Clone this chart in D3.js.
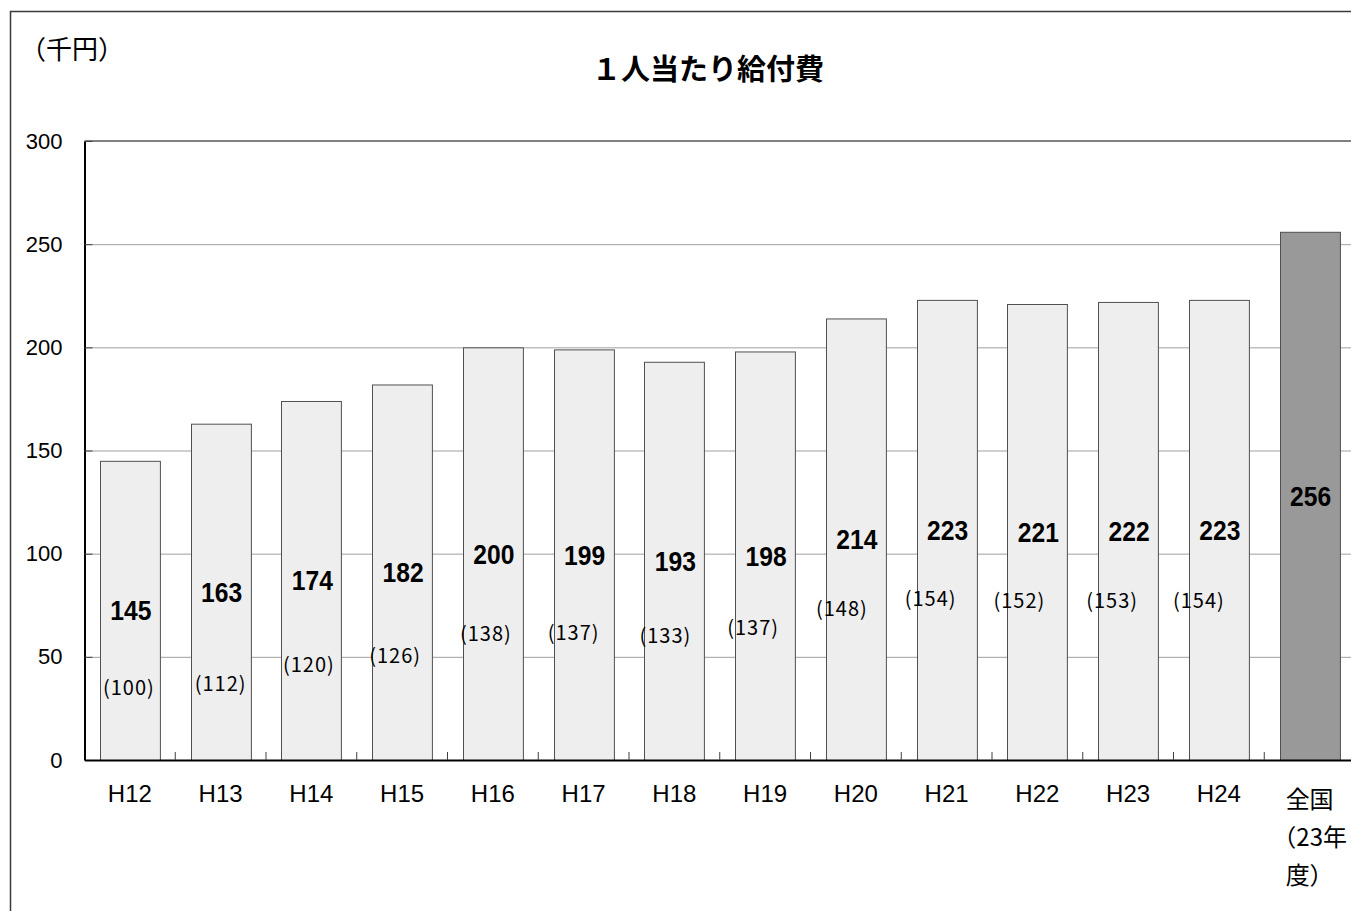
<!DOCTYPE html>
<html lang="ja">
<head>
<meta charset="utf-8">
<title>1人当たり給付費</title>
<script src="https://cdn.jsdelivr.net/npm/d3@7"></script>
<style>
  html, body { margin: 0; padding: 0; background: #fff; overflow: hidden; }
  svg { display: block; }
  .ylab text { font-family: "Liberation Sans", Arial, sans-serif; font-size: 22px; fill: #000; }
  .xlab text { font-family: "Liberation Sans", Arial, "Noto Sans CJK JP", sans-serif; font-size: 24px; fill: #000; }
</style>
</head>
<body>
<div id="chart"></div>
<script>
// 年度
const categories = ['H12', 'H13', 'H14', 'H15', 'H16', 'H17', 'H18', 'H19', 'H20', 'H21', 'H22', 'H23', 'H24', '全国\n（23年\n度）'];
// 1人当たり給付費（千円）
const values = [145, 163, 174, 182, 200, 199, 193, 198, 214, 223, 221, 222, 223, 256];
// 指数（H12=100）
const indexValues = [100, 112, 120, 126, 138, 137, 133, 137, 148, 154, 152, 153, 154, null];
// 指数ラベルの置き場所（手で置かれたテキスト：縦は千円単位、横はpxずれ）
const indexLabelAt = [35.8, 37.8, 47, 51.1, 62, 62.5, 60.8, 64.9, 74.1, 78.7, 78, 78, 78, null];
const indexLabelDx = [-1, 0, -2.5, -7, -7, -10, -9, -12, -14, -16, -18, -16, -20, 0];
const yTicks = [0, 50, 100, 150, 200, 250, 300];

const W = 1351, H = 911;
const plot = { left: 84.5, right: 1355, top: 141, bottom: 760 };

const svg = d3.select('#chart').append('svg')
  .attr('width', W).attr('height', H);

// 外枠
svg.append('rect')
  .attr('x', 10.5).attr('y', 11.5).attr('width', W + 20).attr('height', H + 20)
  .attr('fill', '#fff').attr('stroke', '#3a3a3a').attr('stroke-width', 1.5);

// タイトル
svg.append('text')
  .attr('x', 708).attr('y', 67).attr('text-anchor', 'middle').attr('dominant-baseline', 'central')
  .attr('font-family', '"Noto Sans CJK JP", sans-serif').attr('font-weight', 700).attr('font-size', 29)
  .text('１人当たり給付費');

svg.append('text')
  .attr('x', 20).attr('y', 47).attr('dominant-baseline', 'central')
  .attr('font-family', '"Noto Sans CJK JP", sans-serif').attr('font-size', 26)
  .text('（千円）');

const x = d3.scaleBand().domain(categories)
  .range([plot.left, plot.right]).paddingInner(0.34).paddingOuter(0.17);
const y = d3.scaleLinear().domain([0, 300]).range([plot.bottom, plot.top]);

// グリッド線
svg.append('g').selectAll('line')
  .data(yTicks.filter(t => t > 0 && t < 300)).join('line')
  .attr('x1', plot.left).attr('x2', plot.right)
  .attr('y1', d => y(d) + 0.5).attr('y2', d => y(d) + 0.5)
  .attr('stroke', '#a0a0a0').attr('stroke-width', 1);

svg.append('line')
  .attr('x1', plot.left).attr('x2', plot.right)
  .attr('y1', y(300)).attr('y2', y(300))
  .attr('stroke', '#808080').attr('stroke-width', 2);

// 棒
svg.append('g').selectAll('rect')
  .data(values).join('rect')
  .attr('x', (d, i) => Math.round(x(categories[i])) + 0.5)
  .attr('y', d => y(d) + 0.5)
  .attr('width', x.bandwidth())
  .attr('height', d => y(0) - y(d))
  .attr('fill', (d, i) => i === values.length - 1 ? '#999999' : '#eeeeee')
  .attr('stroke', '#505050').attr('stroke-width', 1);

// Y軸
const yAxis = svg.append('g').attr('class', 'ylab')
  .attr('transform', `translate(${plot.left},0)`)
  .call(d3.axisLeft(y).tickValues(yTicks).tickSize(-8).tickSizeOuter(0).tickPadding(22));
yAxis.select('.domain').attr('stroke', '#000').attr('stroke-width', 2);
yAxis.selectAll('.tick line').attr('stroke', '#404040');

// X軸（目盛りは区間の境目）
const xAxis = svg.append('g').attr('class', 'xlab')
  .attr('transform', `translate(0,${plot.bottom})`)
  .call(d3.axisBottom(x).tickSize(0).tickSizeOuter(0).tickPadding(0));
xAxis.select('.domain').attr('stroke', '#000').attr('stroke-width', 2);
xAxis.selectAll('.tick text').each(function (d) {
  const t = d3.select(this);
  const lines = d.split('\n');
  t.text(null).attr('y', null).attr('dy', null);
  lines.forEach((l, i) => {
    t.append('tspan')
      .attr('x', 0)
      .attr('y', lines.length > 1 ? 37 + i * 38 : 33)
      .attr('dominant-baseline', 'central')
      .attr('font-family', lines.length > 1 ? '"Noto Sans CJK JP", sans-serif' : null)
      .text(l);
  });
});

const gap = (x.step() - x.bandwidth()) / 2;
svg.append('g').selectAll('line')
  .data(categories.slice(0, -1)).join('line')
  .attr('x1', d => x(d) + x.bandwidth() + gap).attr('x2', d => x(d) + x.bandwidth() + gap)
  .attr('y1', plot.bottom - 8).attr('y2', plot.bottom)
  .attr('stroke', '#404040').attr('stroke-width', 1);

// 値ラベル
svg.append('g').selectAll('text')
  .data(values).join('text')
  .attr('x', (d, i) => x(categories[i]) + x.bandwidth() / 2 + 1)
  .attr('y', d => y(d / 2) + 1)
  .attr('text-anchor', 'middle').attr('dominant-baseline', 'central')
  .attr('font-family', '"Liberation Sans", Arial, sans-serif')
  .attr('font-weight', 700).attr('font-size', 27)
  .attr('textLength', d => String(d).length * 13.7).attr('lengthAdjust', 'spacingAndGlyphs')
  .text(d => d);

// 指数ラベル
svg.append('g').selectAll('text')
  .data(indexValues.map((v, i) => ({ v, i })).filter(d => d.v != null)).join('text')
  .attr('x', d => x(categories[d.i]) + x.bandwidth() / 2 + indexLabelDx[d.i])
  .attr('y', d => y(indexLabelAt[d.i]))
  .attr('text-anchor', 'middle').attr('dominant-baseline', 'central')
  .attr('font-family', '"Noto Sans CJK JP", sans-serif').attr('font-size', 20)
  .attr('letter-spacing', 1)
  .text(d => `(${d.v})`);
</script>
</body>
</html>
